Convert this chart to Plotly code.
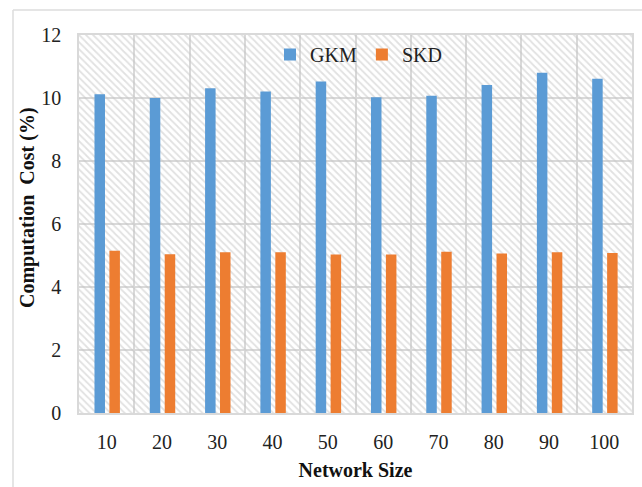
import plotly.graph_objects as go

network_size = ["10", "20", "30", "40", "50", "60", "70", "80", "90", "100"]
gkm = [10.12, 10.0, 10.31, 10.21, 10.52, 10.02, 10.07, 10.41, 10.8, 10.61]
skd = [5.15, 5.04, 5.10, 5.10, 5.03, 5.03, 5.12, 5.06, 5.10, 5.08]
y_ticks = [0, 2, 4, 6, 8, 10, 12]

W, H = 642, 487
L, R, T, B = 79, 10, 35, 74
pw, ph = W - L - R, H - T - B

def px_x(p):
    return (p - L) / pw

def px_y(p):
    return (H - B - p) / ph

FONT = "Liberation Serif"
GRID = "#d9d9d9"

fig = go.Figure()

# hatched plot background (decoration) on the main axes
fig.add_trace(go.Bar(
    x=[0.5], y=[12], width=[1], xaxis="x", yaxis="y",
    marker=dict(color="rgba(0,0,0,0)", line=dict(width=0),
                pattern=dict(shape="\\", fgcolor="#c4c4c4", bgcolor="rgba(0,0,0,0)",
                             size=5, solidity=0.35)),
    showlegend=False, hoverinfo="skip",
))

fig.add_trace(go.Bar(
    x=network_size, y=gkm, name="GKM", xaxis="x2", yaxis="y",
    width=0.19, offset=-0.22,
    marker=dict(color="#5B9BD5", line=dict(width=0)),
))
fig.add_trace(go.Bar(
    x=network_size, y=skd, name="SKD", xaxis="x2", yaxis="y",
    width=0.19, offset=0.05,
    marker=dict(color="#ED7D31", line=dict(width=0)),
))

fig.update_layout(
    width=W, height=H,
    margin=dict(l=L, r=R, t=T, b=B, autoexpand=False),
    paper_bgcolor="white", plot_bgcolor="white",
    barmode="overlay",
    font=dict(family=FONT, size=20, color="#222222"),
    xaxis=dict(range=[0, 1], visible=False, showgrid=False, zeroline=False,
               fixedrange=True, automargin=False),
    xaxis2=dict(
        overlaying="x", side="bottom", type="category", automargin=False,
        categoryorder="array", categoryarray=network_size,
        tickson="boundaries", showgrid=True, gridcolor=GRID, gridwidth=1.5,
        showline=True, linecolor=GRID, linewidth=1.5, mirror=True,
        ticks="", ticklabelstandoff=10,
        tickfont=dict(family=FONT, size=20, color="#222222"),
        title=dict(text="<b>Network Size</b>", font=dict(family=FONT, size=20, color="#111111"),
                   standoff=11),
    ),
    yaxis=dict(
        range=[0, 12], tickvals=y_ticks, showgrid=True, gridcolor=GRID, gridwidth=1.5,
        zeroline=False, showline=True, linecolor=GRID, linewidth=1.5, mirror=True,
        ticks="outside", ticklen=12, tickcolor="rgba(0,0,0,0)", automargin=False,
        tickfont=dict(family=FONT, size=20, color="#222222"),
    ),
    legend=dict(orientation="h", x=px_x(270), xanchor="left", y=1.0, yanchor="top",
                bgcolor="rgba(0,0,0,0)", font=dict(family=FONT, size=20, color="#222222"),
                itemwidth=30, tracegroupgap=0, traceorder="normal"),
    annotations=[dict(
        text="<b>Computation  Cost (%)</b>", textangle=-90,
        xref="paper", yref="paper", x=px_x(27), y=px_y(208),
        xanchor="center", yanchor="middle", showarrow=False,
        font=dict(family=FONT, size=20, color="#111111"),
    )],
    shapes=[
        dict(type="line", xref="paper", yref="paper", x0=px_x(13), x1=px_x(660),
             y0=px_y(10), y1=px_y(10), line=dict(color="#dcdcdc", width=1.5)),
        dict(type="line", xref="paper", yref="paper", x0=px_x(13), x1=px_x(13),
             y0=px_y(10), y1=px_y(500), line=dict(color="#dcdcdc", width=1.5)),
    ],
)

fig.write_html("out.html", config={"displayModeBar": False},
               post_script="document.body.style.margin='0';")
